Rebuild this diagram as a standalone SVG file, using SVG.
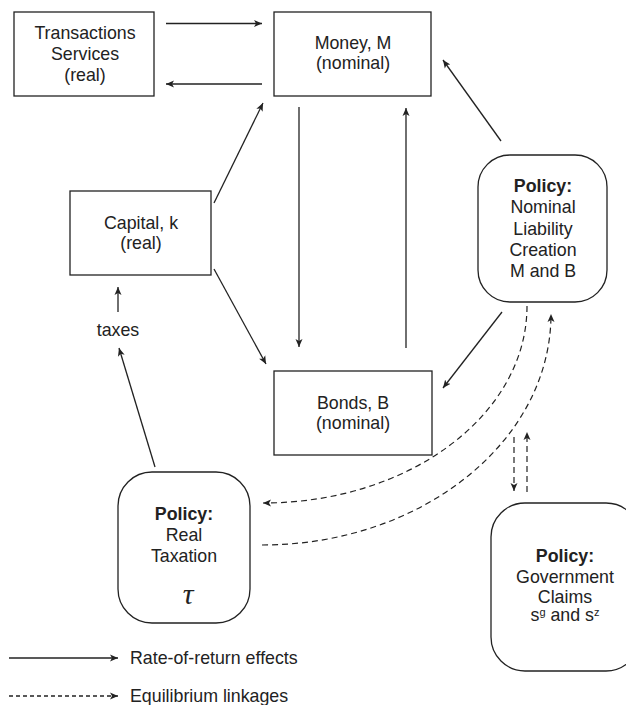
<svg xmlns="http://www.w3.org/2000/svg" width="626" height="705" viewBox="0 0 626 705">
<style>
.box{fill:#fff;stroke:#222;stroke-width:1.3}
.t{font-family:"Liberation Sans",Arial,sans-serif;font-size:17.8px;fill:#222;text-anchor:middle}
.b{font-weight:bold}
.l{font-family:"Liberation Sans",Arial,sans-serif;font-size:17.8px;fill:#222}
.ln{fill:none;stroke:#222;stroke-width:1.3}
.d{fill:none;stroke:#222;stroke-width:1.2;stroke-dasharray:6 4}
</style>
<defs>
<marker id="ah" markerWidth="9" markerHeight="8" refX="8" refY="4" orient="auto" markerUnits="userSpaceOnUse">
<path d="M0,0.5 L8,4 L0,7.5 L2,4 z" fill="#222"/>
</marker>
</defs>
<rect width="626" height="705" fill="#fff"/>
<g id="transactions">
<rect class="box" x="14" y="12" width="140" height="84"/>
<text class="t" x="85" y="39">Transactions</text>
<text class="t" x="85" y="60">Services</text>
<text class="t" x="85" y="81">(real)</text>
</g>
<g id="money">
<rect class="box" x="274" y="12" width="157" height="84"/>
<text class="t" x="353" y="49">Money, M</text>
<text class="t" x="353" y="69">(nominal)</text>
</g>
<g id="capital">
<rect class="box" x="70" y="191" width="141" height="84"/>
<text class="t" x="141" y="229">Capital, k</text>
<text class="t" x="141" y="249">(real)</text>
</g>
<g id="taxes">
<text class="t" x="118" y="336">taxes</text>
</g>
<g id="bonds">
<rect class="box" x="274" y="371" width="158" height="84"/>
<text class="t" x="353" y="409">Bonds, B</text>
<text class="t" x="353" y="429">(nominal)</text>
</g>
<g id="policy-nominal">
<rect class="box" x="478" y="155" width="129" height="147" rx="32" ry="32"/>
<text class="t b" x="543" y="192">Policy:</text>
<text class="t" x="543" y="213">Nominal</text>
<text class="t" x="543" y="235">Liability</text>
<text class="t" x="543" y="256">Creation</text>
<text class="t" x="543" y="277">M and B</text>
</g>
<g id="policy-taxation">
<rect class="box" x="118" y="472" width="132" height="151" rx="34" ry="34"/>
<text class="t b" x="184" y="520">Policy:</text>
<text class="t" x="184" y="541">Real</text>
<text class="t" x="184" y="562">Taxation</text>
<text x="188" y="604" style="font-family:'Liberation Serif','Times New Roman',serif;font-style:italic;font-size:30px;fill:#222;text-anchor:middle">τ</text>
</g>
<g id="policy-government">
<rect class="box" x="491" y="503" width="149" height="168" rx="34" ry="34"/>
<text class="t b" x="565" y="562">Policy:</text>
<text class="t" x="565" y="583">Government</text>
<text class="t" x="565" y="603">Claims</text>
<text class="t" x="565" y="621">s<tspan dy="-5" font-size="11">g</tspan><tspan dy="5"> and s</tspan><tspan dy="-5" font-size="11">z</tspan></text>
</g>
<g id="connectors">
<line class="ln" x1="166" y1="23.5" x2="262" y2="23.5" marker-end="url(#ah)"/>
<line class="ln" x1="262" y1="84" x2="166" y2="84" marker-end="url(#ah)"/>
<line class="ln" x1="214" y1="203" x2="263" y2="103" marker-end="url(#ah)"/>
<line class="ln" x1="214" y1="269" x2="266" y2="364" marker-end="url(#ah)"/>
<line class="ln" x1="299" y1="107" x2="299" y2="347" marker-end="url(#ah)"/>
<line class="ln" x1="406" y1="348" x2="406" y2="108" marker-end="url(#ah)"/>
<line class="ln" x1="118" y1="312" x2="118" y2="287" marker-end="url(#ah)"/>
<line class="ln" x1="155" y1="467" x2="119" y2="348" marker-end="url(#ah)"/>
<line class="ln" x1="501" y1="141" x2="443" y2="60" marker-end="url(#ah)"/>
<line class="ln" x1="502" y1="312" x2="443" y2="388" marker-end="url(#ah)"/>
<path class="d" d="M527,306 C527,415 409,503 263,503" marker-end="url(#ah)"/>
<path class="d" d="M262,545 C421,545 551,442 551,314" marker-end="url(#ah)"/>
<line class="d" x1="514" y1="437" x2="514" y2="491" marker-end="url(#ah)"/>
<line class="d" x1="527" y1="492" x2="527" y2="432" marker-end="url(#ah)"/>
</g>
<g id="legend">
<line class="ln" x1="9" y1="658" x2="118" y2="658" marker-end="url(#ah)"/>
<text class="l" x="130" y="664">Rate-of-return effects</text>
<line class="ln" x1="9" y1="696" x2="118" y2="696" style="stroke-dasharray:4 3" marker-end="url(#ah)"/>
<text class="l" x="130" y="702">Equilibrium linkages</text>
</g>
</svg>
